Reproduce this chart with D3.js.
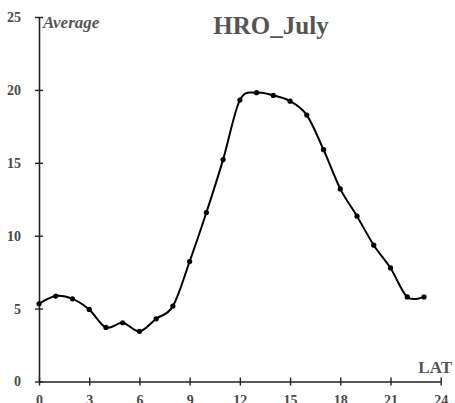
<!DOCTYPE html>
<html>
<head>
<meta charset="utf-8">
<script src="https://cdn.jsdelivr.net/npm/d3@7"></script>
<style>
  html, body { margin: 0; padding: 0; background: #fff; }
  svg { display: block; }
  text { font-family: "Liberation Serif", "Times New Roman", serif; font-weight: bold; fill: #555; }
</style>
</head>
<body>
<svg id="chart" width="455" height="403"></svg>
<script>
// Hourly averages for HRO in July, by local apparent time (hour 0..23)
const hours = [0,1,2,3,4,5,6,7,8,9,10,11,12,13,14,15,16,17,18,19,20,21,22,23];
const averages = [5.33,5.86,5.67,4.94,3.71,4.03,3.44,4.30,5.17,8.23,11.59,15.22,19.30,19.81,19.62,19.23,18.27,15.90,13.21,11.34,9.35,7.79,5.80,5.80];
const xTicks = [0,3,6,9,12,15,18,21,24];
const yTicks = [0,5,10,15,20,25];
const chartTitle = "HRO_July";
const yLabel = "Average";
const xLabel = "LAT";

const svg = d3.select("#chart");
const x = d3.scaleLinear().domain([0, 24]).range([39, 440.7]);
const y = d3.scaleLinear().domain([0, 25]).range([381.5, 17]);

const axisColor = "#222";

// Y axis with ticks crossing the line
const yAxis = svg.append("g").attr("transform", `translate(${x(0)},0)`)
  .call(d3.axisLeft(y).tickValues(yTicks).tickSize(4).tickSizeOuter(0).tickPadding(14));
yAxis.attr("font-family", null);
yAxis.select(".domain").attr("stroke", axisColor).attr("stroke-width", 1.6);
yAxis.selectAll(".tick line").attr("x1", 4).attr("x2", -4).attr("stroke", axisColor).attr("stroke-width", 1.4);
yAxis.selectAll(".tick text").attr("font-size", 14).style("fill", "#4a4a4a");

// X axis
const xAxis = svg.append("g").attr("transform", `translate(0,${y(0)})`)
  .call(d3.axisBottom(x).tickValues(xTicks).tickSize(4).tickSizeOuter(0).tickPadding(10));
xAxis.attr("font-family", null);
xAxis.select(".domain").attr("stroke", axisColor).attr("stroke-width", 1.6);
xAxis.selectAll(".tick line").attr("y1", -4).attr("y2", 4).attr("stroke", axisColor).attr("stroke-width", 1.4);
xAxis.selectAll(".tick text").attr("font-size", 14).style("fill", "#4a4a4a");

// Smoothed series line
const line = d3.line()
  .x((d, i) => x(hours[i]))
  .y(d => y(d))
  .curve(d3.curveCardinal.tension(0));
svg.append("path")
  .datum(averages)
  .attr("d", line)
  .attr("fill", "none")
  .attr("stroke", "#000")
  .attr("stroke-width", 2);

svg.append("g").selectAll("circle")
  .data(averages)
  .join("circle")
  .attr("cx", (d, i) => x(hours[i]))
  .attr("cy", d => y(d))
  .attr("r", 2.6)
  .attr("fill", "#000");

// Labels
svg.append("text")
  .attr("x", 271).attr("y", 34)
  .attr("text-anchor", "middle")
  .attr("font-size", 25)
  .text(chartTitle);

svg.append("text")
  .attr("x", 43).attr("y", 28)
  .attr("font-size", 17)
  .attr("font-style", "italic")
  .text(yLabel);

svg.append("text")
  .attr("x", 452).attr("y", 373)
  .attr("text-anchor", "end")
  .attr("font-size", 17)
  .text(xLabel);
</script>
</body>
</html>
